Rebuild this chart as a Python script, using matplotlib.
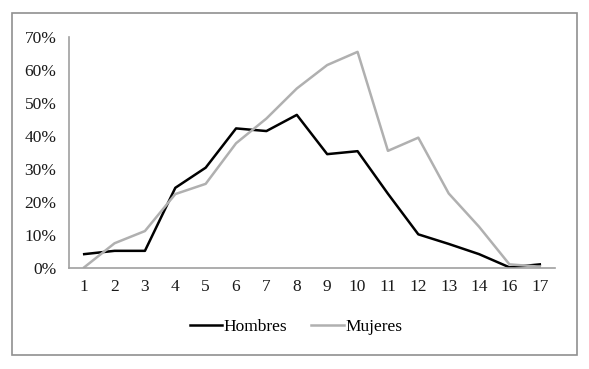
import numpy as np
import matplotlib.pyplot as plt
from matplotlib.patches import Rectangle

# data
categories = ['1', '2', '3', '4', '5', '6', '7', '8', '9', '10', '11', '12', '13', '14', '16', '17']
hombres = [4.2, 5.2, 5.2, 24.3, 30.4, 42.3, 41.5, 46.4, 34.5, 35.4, 22.5, 10.2, 7.3, 4.2, 0.2, 1.1]
mujeres = [0.2, 7.5, 11.2, 22.4, 25.5, 37.8, 45.3, 54.4, 61.5, 65.5, 35.5, 39.5, 22.6, 12.5, 1.1, 0.4]

plt.rcParams['font.family'] = ['Liberation Serif', 'DejaVu Serif']

fig = plt.figure(figsize=(5.89, 3.69), dpi=100)
ax = fig.add_axes([69/589, 1 - 268/369, (555 - 69)/589, (268 - 37)/369])

x = np.arange(1, len(categories) + 1)
ax.plot(x, np.array(hombres) / 100, color='black', lw=1.8, label='Hombres')
ax.plot(x, np.array(mujeres) / 100, color='#b0b0b0', lw=1.8, label='Mujeres')

ax.set_xlim(0.5, len(categories) + 0.5)
ax.set_ylim(0, 0.7)
ax.set_yticks(np.arange(0, 0.71, 0.1))
ax.set_yticklabels(['{:.0f}%'.format(v * 100) for v in np.arange(0, 0.71, 0.1)])
ax.set_xticks(x)
ax.set_xticklabels(categories)
ax.tick_params(axis='both', length=0, labelsize=12.5, colors='#1a1a1a')
ax.tick_params(axis='y', pad=9)
ax.tick_params(axis='x', pad=8)

for s in ['top', 'right']:
    ax.spines[s].set_visible(False)
for s in ['left', 'bottom']:
    ax.spines[s].set_color('#a0a0a0')
    ax.spines[s].set_linewidth(1.2)

fig.legend(loc='center', bbox_to_anchor=(296/589, 1 - 327/369), ncol=2, frameon=False,
           fontsize=12.5, handlelength=1.85, handletextpad=0.1, columnspacing=1.4)

# outer chart border
fig.patches.append(Rectangle((12/589, 1 - 355/369), (577 - 12)/589, (355 - 13)/369,
                             transform=fig.transFigure, fill=False, edgecolor='#909090', lw=1.2))

plt.savefig('out.png', dpi=100)
